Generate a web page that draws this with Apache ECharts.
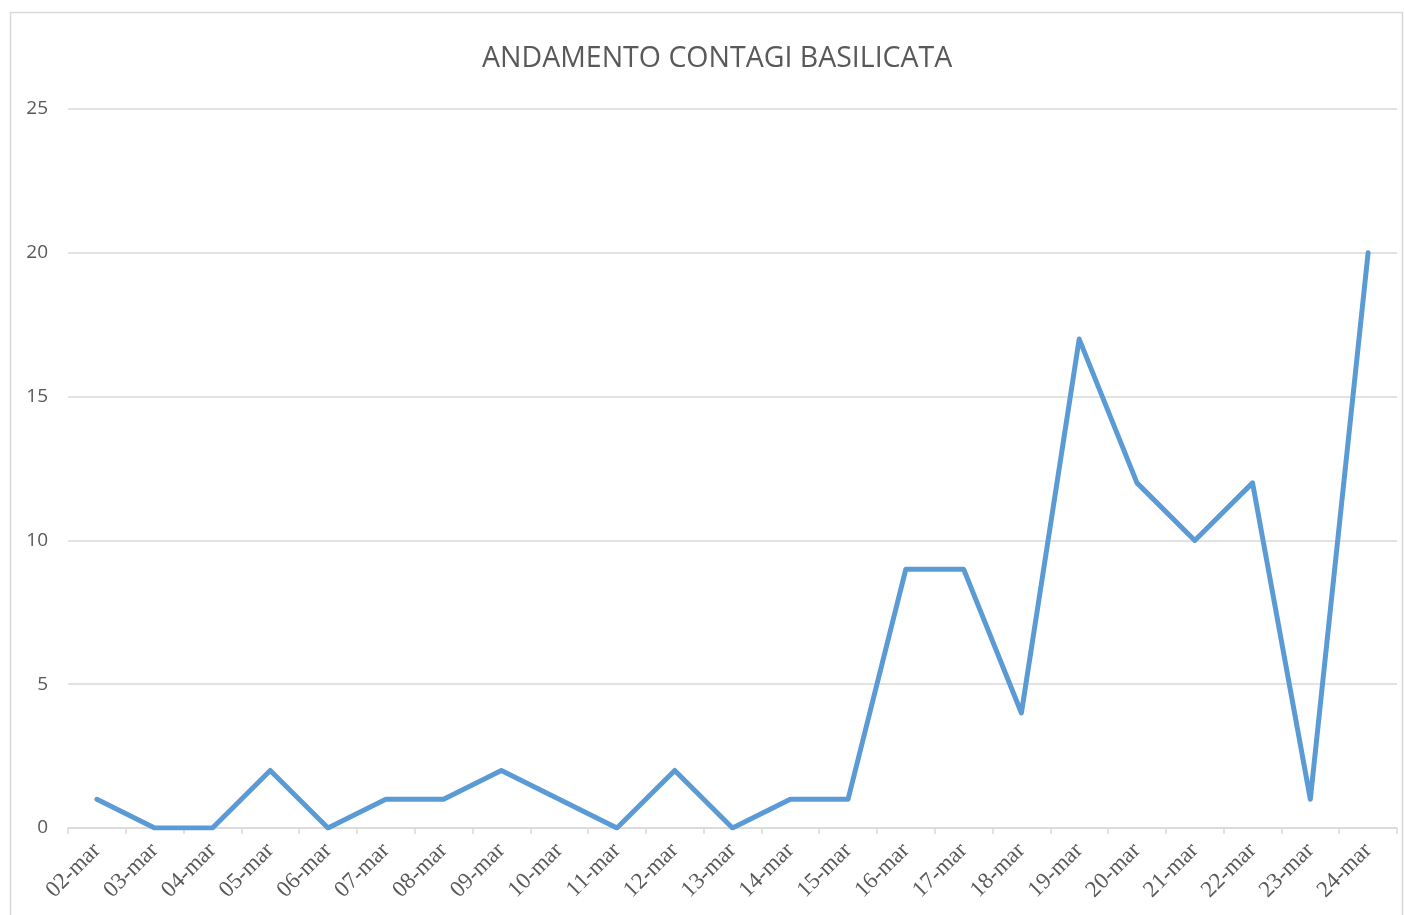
<!DOCTYPE html>
<html><head><meta charset="utf-8">
<script src="https://cdn.jsdelivr.net/npm/echarts@6/dist/echarts.min.js"></script>
<style>html,body{margin:0;padding:0;background:#fff}#c{width:1405px;height:915px}</style>
</head><body><div id="c"></div>
<script>
const categories = ["02-mar","03-mar","04-mar","05-mar","06-mar","07-mar","08-mar","09-mar","10-mar","11-mar","12-mar","13-mar","14-mar","15-mar","16-mar","17-mar","18-mar","19-mar","20-mar","21-mar","22-mar","23-mar","24-mar"];
const contagi = [1,0,0,2,0,1,1,2,1,0,2,0,1,1,9,9,4,17,12,10,12,1,20];
const yTicks = [0,5,10,15,20,25];

const chart = echarts.init(document.getElementById('c'), null, {renderer:'canvas'});
chart.setOption({
  animation:false,
  backgroundColor:'#fff',
  graphic:[{type:'rect',shape:{x:10.5,y:12.5,width:1392,height:920},style:{fill:'none',stroke:'#d9d9d9',lineWidth:1.5},silent:true}],
  title:{text:'ANDAMENTO CONTAGI BASILICATA',left:477,top:39,
    textStyle:{fontFamily:'Open Sans',fontWeight:'normal',fontSize:28.5,color:'#595959'}},
  grid:{left:68,right:8,top:109,bottom:87,containLabel:false},
  xAxis:{type:'category',data:categories,boundaryGap:true,
    axisLine:{lineStyle:{color:'#d9d9d9',width:1.5}},
    axisTick:{show:true,length:6,lineStyle:{color:'#d9d9d9',width:1.5},alignWithLabel:false},
    axisLabel:{rotate:45,margin:19,color:'#595959',fontFamily:'Liberation Serif',fontSize:23,interval:0}},
  yAxis:{type:'value',min:yTicks[0],max:yTicks[yTicks.length-1],interval:5,
    axisLine:{show:false},axisTick:{show:false},
    axisLabel:{color:'#595959',fontFamily:'Open Sans',fontSize:19,margin:20},
    splitLine:{lineStyle:{color:'#d9d9d9',width:1.5}}},
  series:[{type:'line',data:contagi,symbol:'none',
    lineStyle:{color:'#5B9BD5',width:5,cap:'round',join:'round'}}]
});
</script></body></html>
